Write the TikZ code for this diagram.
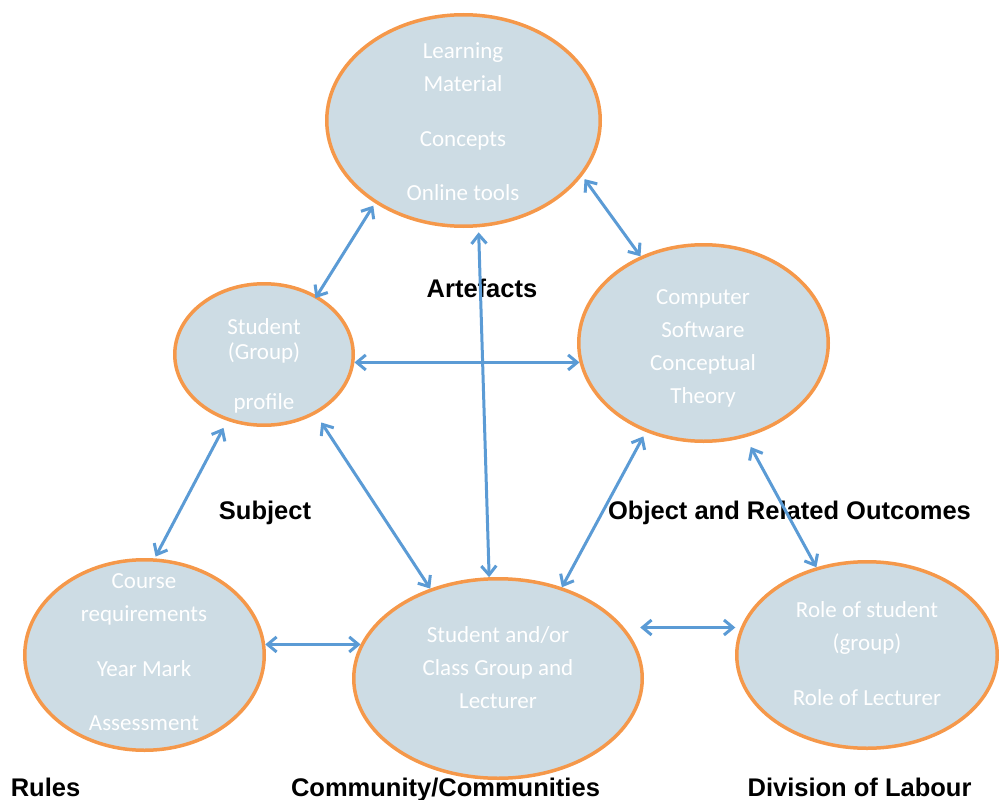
\documentclass[tikz,border=0pt]{standalone}
\usepackage{fontspec}
\setmainfont{Carlito}
\newfontfamily\lblfont{Liberation Sans}
\usetikzlibrary{shapes.geometric,arrows.meta}
\definecolor{efill}{HTML}{CDDCE4}
\definecolor{eline}{HTML}{F5984A}
\definecolor{arr}{HTML}{5B9BD5}
\begin{document}
\begin{tikzpicture}[x=1pt,y=-1pt,
 ell/.style={ellipse,draw=eline,line width=3.5pt,fill=efill,inner sep=0pt},
 etext/.style={text=white,align=center,font=\fontsize{23}{33}\selectfont},
 lbl/.style={font=\lblfont\bfseries\fontsize{25.5}{30}\selectfont,anchor=base},
 link/.style={draw=arr,line width=3pt,{Straight Barb[length=9pt,width=15pt]}-{Straight Barb[length=9pt,width=15pt]}}]
\useasboundingbox (0,0) rectangle (999,800);
\node[ell,minimum width=273.5pt,minimum height=211.5pt] (art) at (463.5,120.5) {};
\node[ell,minimum width=178.5pt,minimum height=141.5pt] (sub) at (264,354.5) {};
\node[ell,minimum width=249.5pt,minimum height=196.5pt] (obj) at (703.5,343) {};
\node[ell,minimum width=239.5pt,minimum height=190.5pt] (rul) at (144.5,655) {};
\node[ell,minimum width=288.5pt,minimum height=199.5pt] (com) at (498,678.5) {};
\node[ell,minimum width=260.5pt,minimum height=186.5pt] (div) at (867,655) {};

\node[etext] (artT) at (463,122) {Learning\\Material\\[22pt]Concepts\\[21pt]Online tools};
\node[etext,font=\fontsize{23}{25}\selectfont] (subT) at (264,366) {Student\\(Group)\\[25pt]profile};
\node[etext] (objT) at (703,348) {Computer\\Software\\Conceptual\\Theory};
\node[etext] (rulT) at (144,652) {Course\\requirements\\[22pt]Year Mark\\[21pt]Assessment};
\node[etext] (comT) at (498,668) {Student and/or\\Class Group and\\Lecturer};
\node[etext] (divT) at (867,654) {Role of student\\(group)\\[22pt]Role of Lecturer};

\node[lbl] (lArt) at (482,297) {Artefacts};
\node[lbl] (lSub) at (265,519) {Subject};
\node[lbl] (lObj) at (789.5,519) {Object and Related Outcomes};
\node[lbl] (lRul) at (45.5,796) {Rules};
\node[lbl] (lCom) at (445.5,796) {Community/Communities};
\node[lbl] (lDiv) at (859.5,796) {Division of Labour};

\draw[link,shorten <=3pt,shorten >=-3pt] (art.223.7) -- (sub.48.5);
\draw[link,shorten <=4pt] (art.-25) -- (obj.126.4);
\draw[link] (sub.-5.4) -- (sub.-5.4 -| obj.189);
\draw[link,shorten <=5pt] (art.-82.7) -- (com.95.5);
\draw[link,shorten <=8pt,shorten >=2pt] (sub.241.2) -- (rul.84);
\draw[link,shorten <=10pt] (sub.-49.7) -- (com.127);
\draw[link,shorten <=5pt] (obj.237.2) -- (com.55.6);
\draw[link,shorten <=11pt] (obj.-66.1) -- (div.120.6);
\draw[link] (rul.5.7) -- (rul.5.7 -| com.166.4);
\draw[link,shorten <=16pt,shorten >=6pt] (com.22.5) -- (com.22.5 -| div.167.4);
\end{tikzpicture}
\end{document}
